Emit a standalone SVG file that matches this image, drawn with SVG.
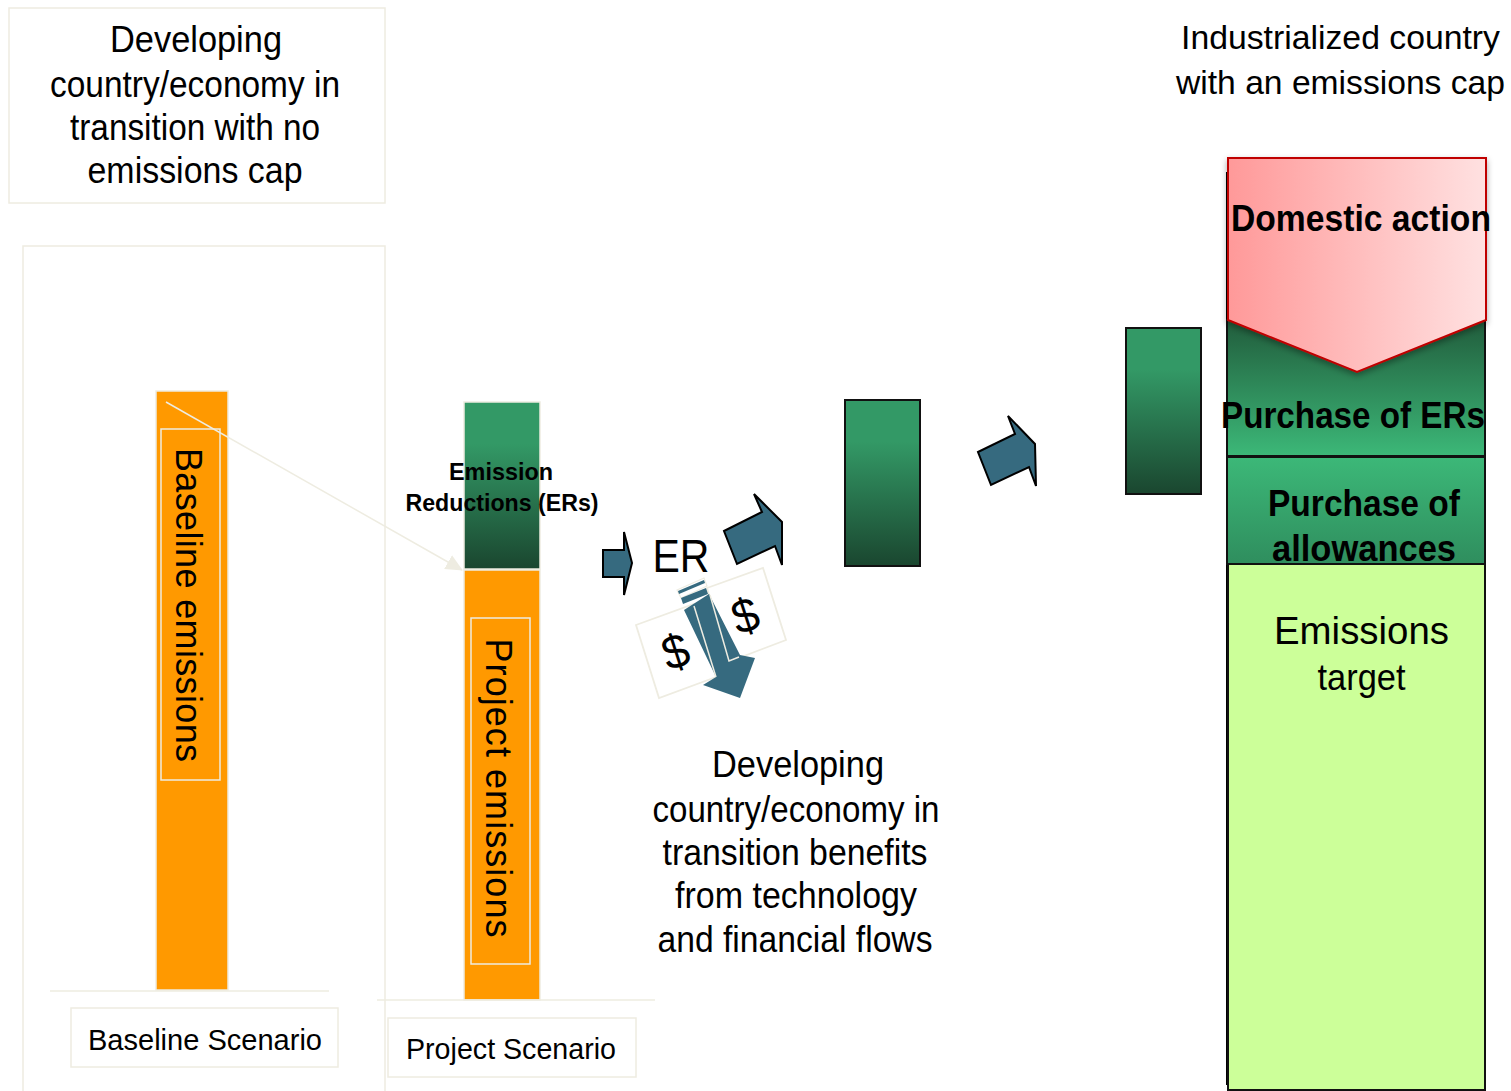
<svg xmlns="http://www.w3.org/2000/svg" width="1511" height="1091" viewBox="0 0 1511 1091">
<style>
text{font-family:"Liberation Sans",Arial,sans-serif;fill:#000;text-anchor:middle}
.frame{fill:none;stroke:#eeece1;stroke-width:1.5}
.orange{fill:#ff9900;stroke:#eeece1;stroke-width:1.5}
.arrow{fill:#366a7f;stroke:#000;stroke-width:2}
.bill{fill:#fff;stroke:#eeece1;stroke-width:1.8}
.t36{font-size:36px}
.t34{font-size:34px}
.b36{font-size:36px;font-weight:bold}
.b24{font-size:24px;font-weight:bold}
.t30{font-size:30px}
</style>
<defs>
<linearGradient id="dg" x1="0" y1="0" x2="0" y2="1"><stop offset="0" stop-color="#339966"/><stop offset=".25" stop-color="#339966"/><stop offset="1" stop-color="#1a462f"/></linearGradient>
<linearGradient id="ers" x1="0" y1="0" x2="0" y2="1"><stop offset="0" stop-color="#215c3c"/><stop offset="1" stop-color="#3cb878"/></linearGradient>
<linearGradient id="alw" x1="0" y1="0" x2="0" y2="1"><stop offset="0" stop-color="#3cb878"/><stop offset="1" stop-color="#2f8e5e"/></linearGradient>
<linearGradient id="pink" x1="0" y1="0" x2="1" y2="0"><stop offset="0" stop-color="#ff9999"/><stop offset="1" stop-color="#ffe1e1"/></linearGradient>
<filter id="sh" x="-5%" y="-5%" width="110%" height="110%"><feDropShadow dx="0" dy="3" stdDeviation="3" flood-color="#000" flood-opacity=".35"/></filter>
<marker id="ah" markerUnits="userSpaceOnUse" markerWidth="18" markerHeight="16" refX="16" refY="8" orient="auto"><path d="M0 0L17 8L0 16Z" fill="#eeece1"/></marker>
</defs>

<g id="developing-label"><rect class="frame" x="9" y="8" width="376" height="195"/>
<text class="t36" x="196" y="52" textLength="172" lengthAdjust="spacingAndGlyphs">Developing</text><text class="t36" x="195" y="97" textLength="290" lengthAdjust="spacingAndGlyphs">country/economy in</text><text class="t36" x="195" y="140" textLength="250" lengthAdjust="spacingAndGlyphs">transition with no</text><text class="t36" x="195" y="183" textLength="215" lengthAdjust="spacingAndGlyphs">emissions cap</text></g>
<g id="scenario-frame"><path class="frame" d="M23 1091V246H385V1091"/></g>
<g id="baseline-bar"><rect class="orange" x="156" y="391" width="72" height="599"/><rect class="frame" x="161" y="429" width="59" height="351"/>
<text class="t36" transform="translate(176,605) rotate(90)" textLength="314" lengthAdjust="spacing">Baseline emissions</text></g>
<g id="baseline-axis"><path class="frame" d="M50 991H329"/></g>
<g id="baseline-label"><rect class="frame" x="71" y="1008" width="267" height="59"/><text class="t30" x="205" y="1050" textLength="234" lengthAdjust="spacingAndGlyphs">Baseline Scenario</text></g>
<g id="project-bar"><rect class="orange" x="464" y="570" width="76" height="430"/><rect class="frame" x="471" y="618" width="59" height="346"/>
<text class="t36" transform="translate(486,788) rotate(90)" textLength="299" lengthAdjust="spacing">Project emissions</text></g>
<g id="er-bar"><rect x="464" y="402" width="76" height="167" fill="url(#dg)" stroke="#eeece1" stroke-width="1.5"/>
<text class="b24" x="501" y="480" textLength="104" lengthAdjust="spacingAndGlyphs">Emission</text><text class="b24" x="502" y="511" textLength="193" lengthAdjust="spacingAndGlyphs">Reductions (ERs)</text></g>
<g id="project-axis"><path class="frame" d="M377 1000H655"/></g>
<g id="project-label"><rect class="frame" x="388" y="1018" width="248" height="59"/><text class="t30" x="511" y="1059" textLength="210" lengthAdjust="spacingAndGlyphs">Project Scenario</text></g>

<g id="connectors">
<path d="M166 402L462 570" fill="none" stroke="#eeece1" stroke-width="1.5" marker-end="url(#ah)"/>
<polygon class="arrow" points="603,550 624,550 624,532 632,563 624,595 624,577 603,577"/>
<polygon class="arrow" points="724,531 762,512 754,494 782,522 782,565 775,546 737,564"/>
<polygon class="arrow" points="978,452 1015,434 1008,416 1035,444 1036,486 1029,467 991,485"/>
</g>

<g id="er-label"><text x="681" y="572" font-size="46" textLength="57" lengthAdjust="spacingAndGlyphs">ER</text></g>
<g id="money">
<polygon class="bill" points="636,625 694,604 716,677 659,698"/>
<polygon class="bill" points="707,588 763,568 786,640 728,662"/>
<polygon points="684,610 709,594 740,655 755,658 740,698 703,685 716,677" fill="#366a7f"/>
<polygon points="677,590 704,578 707,586 681,598" fill="#fff" stroke="#eeece1" stroke-width="1.2"/>
<polygon points="678,591 704,580 705,583 679,594" fill="#366a7f"/>
<polygon points="681,598 706,588 708,594 683,604" fill="#366a7f"/>
<path d="M694 606L716 677M710 595L729 661L739 657" fill="none" stroke="#eeece1" stroke-width="1.5"/>
<text x="675" y="668" font-size="48" textLength="26" lengthAdjust="spacingAndGlyphs" transform="rotate(-18 675 650)">$</text>
<text x="745" y="632" font-size="48" textLength="26" lengthAdjust="spacingAndGlyphs" transform="rotate(-18 745 615)">$</text>
</g>
<g id="benefits-label"><text class="t36" x="798" y="777" textLength="172" lengthAdjust="spacingAndGlyphs">Developing</text><text class="t36" x="796" y="822" textLength="287" lengthAdjust="spacingAndGlyphs">country/economy in</text><text class="t36" x="795" y="865" textLength="265" lengthAdjust="spacingAndGlyphs">transition benefits</text><text class="t36" x="796" y="908" textLength="242" lengthAdjust="spacingAndGlyphs">from technology</text><text class="t36" x="795" y="952" textLength="275" lengthAdjust="spacingAndGlyphs">and financial flows</text></g>
<g id="er-block-1"><rect x="845" y="400" width="75" height="166" fill="url(#dg)" stroke="#111" stroke-width="2"/></g>
<g id="er-block-2"><rect x="1126" y="328" width="75" height="166" fill="url(#dg)" stroke="#111" stroke-width="2"/></g>
<g id="industrialized-label"><text class="t34" x="1340.5" y="49" textLength="319" lengthAdjust="spacingAndGlyphs">Industrialized country</text><text class="t34" x="1340.5" y="94" textLength="329" lengthAdjust="spacingAndGlyphs">with an emissions cap</text></g>
<g id="emissions-target"><path d="M1227 172V1085" stroke="#000" stroke-width="2" fill="none"/><rect x="1228" y="564" width="257" height="526" fill="#ccff99" stroke="#111" stroke-width="2"/>
<text class="t36" x="1361.5" y="644" style="font-size:38px" textLength="175" lengthAdjust="spacingAndGlyphs">Emissions</text><text class="t36" x="1361.5" y="690" textLength="88" lengthAdjust="spacingAndGlyphs">target</text></g>
<g id="purchase-ers"><rect x="1227" y="320" width="258" height="136" fill="url(#ers)" stroke="#111" stroke-width="2"/></g>
<g id="purchase-allowances"><rect x="1227" y="457" width="258" height="107" fill="url(#alw)" stroke="#111" stroke-width="2"/></g>
<g id="domestic-action"><polygon points="1228,158 1486,158 1486,320 1357,372 1228,320" fill="url(#pink)" stroke="#c00000" stroke-width="2" filter="url(#sh)"/></g>
<g id="right-labels"><text class="b36" x="1361" y="231" textLength="260" lengthAdjust="spacingAndGlyphs">Domestic action</text><text class="b36" x="1353" y="428" textLength="264" lengthAdjust="spacingAndGlyphs">Purchase of ERs</text><text class="b36" x="1364" y="516" textLength="192" lengthAdjust="spacingAndGlyphs">Purchase of</text><text class="b36" x="1364" y="561" textLength="184" lengthAdjust="spacingAndGlyphs">allowances</text></g>
</svg>
